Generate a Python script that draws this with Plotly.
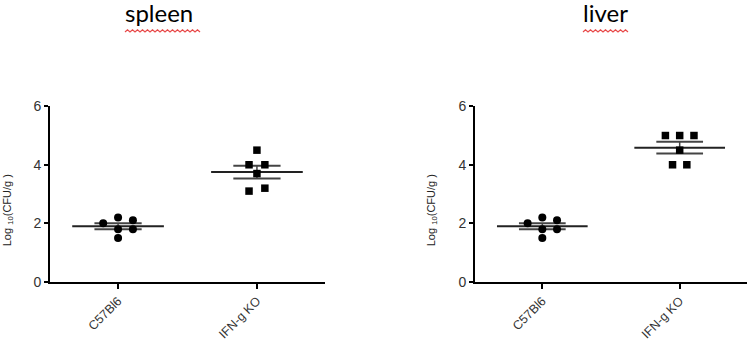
import numpy as np
import plotly.graph_objects as go

# ---- data ----
categories = ["C57Bl6", "IFN-g KO"]
panels = ["spleen", "liver"]
spleen_c57 = [2.0, 2.2, 1.8, 1.5, 2.1, 1.8]
spleen_ko = [4.5, 4.0, 4.0, 3.7, 3.1, 3.2]
liver_c57 = [2.0, 2.2, 1.8, 1.5, 2.1, 1.8]
liver_ko = [5.0, 5.0, 5.0, 4.5, 4.0, 4.0]
y_ticks = [0, 2, 4, 6]
significance = ["*", "*"]

# beeswarm-like slot index per point (layout only)
slots_spleen_c57 = [-1, 0, 0, 0, 1, 1]
slots_spleen_ko = [0, -1, 1, 0, -1, 1]
slots_liver_c57 = [-1, 0, 0, 0, 1, 1]
slots_liver_ko = [-2, 0, 2, 0, -1, 1]

slot_w = {"spleen": (0.107, 0.057), "liver": (0.107, 0.052)}

fig = go.Figure()

groups = {
    "spleen": [(spleen_c57, slots_spleen_c57, "circle"), (spleen_ko, slots_spleen_ko, "square")],
    "liver": [(liver_c57, slots_liver_c57, "circle"), (liver_ko, slots_liver_ko, "square")],
}
domains = {"spleen": [50 / 750, 325 / 750], "liver": [475 / 750, 747 / 750]}
ydom = [1 - 287 / 348, 1 - 103 / 348]

for pi, p in enumerate(panels):
    xa = "x" if pi == 0 else "x2"
    ya = "y" if pi == 0 else "y2"
    for ci, (vals, slots, sym) in enumerate(groups[p]):
        w = slot_w[p][ci]
        xs = [ci + s * w for s in slots]
        v = np.array(vals, dtype=float)
        m = v.mean()
        sem = v.std(ddof=1) / np.sqrt(len(v))
        # mean line
        fig.add_trace(go.Scatter(x=[ci - 0.33, ci + 0.33], y=[m, m], mode="lines",
                                 line=dict(color="#222", width=2), xaxis=xa, yaxis=ya,
                                 showlegend=False, hoverinfo="skip"))
        # sem lines
        for yy in (m - sem, m + sem):
            fig.add_trace(go.Scatter(x=[ci - 0.17, ci + 0.17], y=[yy, yy], mode="lines",
                                     line=dict(color="#444", width=2), xaxis=xa, yaxis=ya,
                                     showlegend=False, hoverinfo="skip"))
        fig.add_trace(go.Scatter(x=[ci, ci], y=[m - sem, m + sem], mode="lines",
                                 line=dict(color="#444", width=1.5), xaxis=xa, yaxis=ya,
                                 showlegend=False, hoverinfo="skip"))
        fig.add_trace(go.Scatter(x=xs, y=vals, mode="markers",
                                 marker=dict(symbol=sym, size=8 if sym == "circle" else 7.5,
                                             color="black", line=dict(width=0)),
                                 xaxis=xa, yaxis=ya, showlegend=False, cliponaxis=False))
    # significance star
    fig.add_annotation(x=1, y=7.8, xref=xa, yref=ya, text=significance[pi], showarrow=False,
                       font=dict(family="Liberation Sans, Arial", size=13, color="black"))
    # panel title
    cx = (159 if pi == 0 else 605) / 750
    fig.add_annotation(x=cx, y=1 - 5 / 348, xref="paper", yref="paper", text=p, showarrow=False,
                       font=dict(family="Lato, Carlito, sans-serif", size=24, color="black"),
                       xanchor="center", yanchor="middle")
    # y axis title
    tx = (8 if pi == 0 else 432) / 750
    fig.add_annotation(x=tx, y=1 - 212 / 348, xref="paper", yref="paper",
                       text="Log <sub>10</sub>(CFU/g )", textangle=-90, showarrow=False,
                       xanchor="center", yanchor="middle",
                       font=dict(family="Liberation Sans, Arial", size=11, color="#222"))

axis_common_x = dict(range=[-0.49, 1.49], tickvals=[0, 1], ticktext=categories, tickangle=-45,
                     showline=True, linecolor="black", linewidth=2, ticks="outside", ticklen=5,
                     tickwidth=2, tickcolor="black", showgrid=False, zeroline=False,
                     tickfont=dict(family="Liberation Sans, Arial", size=12.5, color="#333"),
                     fixedrange=True)
axis_common_y = dict(range=[0, 6], tickvals=y_ticks, showline=True, linecolor="black", linewidth=2,
                     ticks="outside", ticklen=4, tickwidth=2, tickcolor="black", showgrid=False,
                     zeroline=False, domain=ydom,
                     tickfont=dict(family="Liberation Sans, Arial", size=14, color="#333"))

fig.update_layout(
    width=750, height=348, margin=dict(l=0, r=0, t=0, b=0),
    plot_bgcolor="white", paper_bgcolor="white",
    xaxis=dict(axis_common_x, domain=domains["spleen"], anchor="y"),
    yaxis=dict(axis_common_y, anchor="x"),
    xaxis2=dict(axis_common_x, domain=domains["liver"], anchor="y2"),
    yaxis2=dict(axis_common_y, anchor="x2"),
)

# red spell-check squiggles under titles
def squiggle(x0, x1, y, amp=1.2, step=2.5):
    pts = []
    x = x0
    k = 0
    while x <= x1:
        yy = y + (amp if k % 2 == 0 else -amp)
        pts.append((x / 750, 1 - yy / 348))
        x += step
        k += 1
    path = "M " + " L ".join(f"{a:.5f},{b:.5f}" for a, b in pts)
    return path

for (x0, x1) in [(125, 200), (583, 630)]:
    fig.add_shape(type="path", path=squiggle(x0, x1, 24), xref="paper", yref="paper",
                  line=dict(color="#e84a4a", width=1.2))

fig.write_html("out.html")
